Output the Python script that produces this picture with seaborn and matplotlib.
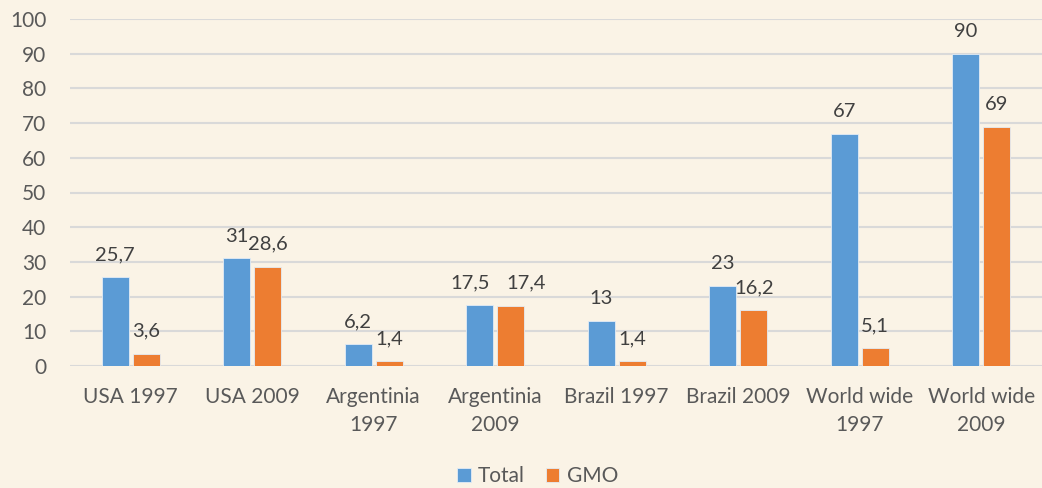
import numpy as np
import pandas as pd
import matplotlib
matplotlib.use("Agg")
import matplotlib.pyplot as plt
import seaborn as sns

categories = ["USA 1997", "USA 2009", "Argentinia\n1997", "Argentinia\n2009",
              "Brazil 1997", "Brazil 2009", "World wide\n1997", "World wide\n2009"]
total = [25.7, 31, 6.2, 17.5, 13, 23, 67, 90]
gmo = [3.6, 28.6, 1.4, 17.4, 1.4, 16.2, 5.1, 69]
series = ["Total", "GMO"]
colors = ["#5B9BD5", "#ED7D31"]

df = pd.DataFrame({
    "category": categories * 2,
    "value": total + gmo,
    "series": [series[0]] * len(categories) + [series[1]] * len(categories),
})

bg = "#FAF3E6"
sns.set_theme(style="white")
plt.rcParams["font.family"] = ["Lato", "DejaVu Sans"]

fig = plt.figure(figsize=(10.42, 4.88), dpi=100, facecolor=bg)
ax = fig.add_axes([70 / 1042, 1 - 366 / 488, 972 / 1042, 347 / 488])
ax.set_facecolor(bg)

sns.barplot(data=df, x="category", y="value", hue="series", palette=colors,
            saturation=1, width=0.51, gap=0.13, edgecolor="#e3ecf5",
            linewidth=0.6, ax=ax, legend=True)

def fmt(v):
    return f"{v:g}".replace(".", ",")

# label nudges (points) where the two labels would collide
nudge = {(0, 3): -7, (1, 3): 11}

for si, cont in enumerate(ax.containers):
    vals = [b.get_height() for b in cont]
    texts = ax.bar_label(cont, labels=[fmt(v) for v in vals], padding=10,
                         fontsize=14.5, color="#404040")
    for ci, t in enumerate(texts):
        if (si, ci) in nudge:
            t.xyann = (nudge[(si, ci)], t.xyann[1])

ax.set_ylim(0, 100)
ax.set_yticks(np.arange(0, 101, 10))
ax.set_xlim(-0.5, len(categories) - 0.5)
ax.grid(axis="y", color="#D9D9D9", linewidth=1.5)
ax.set_axisbelow(True)
for s in ax.spines.values():
    s.set_visible(False)
ax.set_xlabel("")
ax.set_ylabel("")
ax.tick_params(axis="both", length=0, labelsize=15, colors="#595959")
ax.tick_params(axis="x", pad=15)
ax.tick_params(axis="y", pad=17)
for lbl in ax.get_xticklabels():
    lbl.set_linespacing(1.5)

handles, labels = ax.get_legend_handles_labels()
ax.legend(handles, labels, loc="center", bbox_to_anchor=(0.481, -0.318),
          ncol=2, frameon=False, fontsize=15, handlelength=0.65, handleheight=0.65,
          handletextpad=0.35, columnspacing=1.0, labelcolor="#595959")

fig.savefig("out.png", dpi=100, facecolor=bg)
